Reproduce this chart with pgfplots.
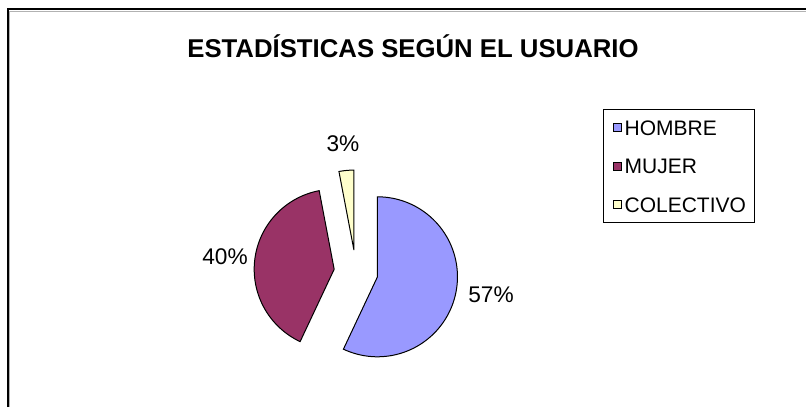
\documentclass[border=0pt]{standalone}
\usepackage{pgfplots}
\pgfplotsset{compat=1.18}
\usepackage{fontspec}
\setmainfont{Liberation Sans}
\definecolor{hombre}{HTML}{9999FF}
\definecolor{mujer}{HTML}{993366}
\definecolor{colectivo}{HTML}{FFFFCC}
\begin{document}
\begin{tikzpicture}
% values (percent)
\def\vH{57}\def\vM{40}\def\vC{3}
% pie geometry (pixel units)
\def\cx{356}\def\cy{135}\def\R{80}\def\ex{22}
\pgfmathsetmacro\aA{90}
\pgfmathsetmacro\aB{\aA-3.6*\vH}
\pgfmathsetmacro\aC{\aB-3.6*\vM}
\pgfmathsetmacro\aD{\aC-3.6*\vC}
\pgfmathsetmacro\hx{\cx+\ex*cos((\aA+\aB)/2)}
\pgfmathsetmacro\hy{\cy+\ex*sin((\aA+\aB)/2)}
\pgfmathsetmacro\mx{\cx+\ex*cos((\aB+\aC)/2)}
\pgfmathsetmacro\my{\cy+\ex*sin((\aB+\aC)/2)}
\pgfmathsetmacro\kx{\cx+\ex*cos((\aC+\aD)/2)}
\pgfmathsetmacro\ky{\cy+\ex*sin((\aC+\aD)/2)}
\begin{axis}[
  x=0.75pt, y=0.75pt,
  xmin=0, xmax=806, ymin=0, ymax=407,
  scale only axis, hide axis, clip=false,
  anchor=south west, at={(0,0)},
  legend style={
    at={(603/806,298/407)}, anchor=north west,
    draw=black, line width=0.75pt,
    font=\fontsize{15.75}{18}\selectfont,
    inner xsep=6.75pt, inner ysep=8pt,
    row sep=17.6pt,
    nodes={inner sep=0pt, text height=11.3pt, text depth=0pt},
    cells={anchor=west},
    /tikz/every odd column/.append style={column sep=2.5pt},
  },
  legend image code/.code={
    \draw[#1, draw=black, line width=0.6pt] (0pt,-3pt) rectangle (6pt,3pt);
  },
]
\addplot[fill=hombre, draw=black, line width=0.75pt, domain=\aB:\aA, samples=80]
  ({\hx+\R*cos(x)},{\hy+\R*sin(x)}) -- (axis cs:\hx,\hy) -- cycle;
\addlegendentry{HOMBRE}
\addplot[fill=mujer, draw=black, line width=0.75pt, domain=\aC:\aB, samples=60]
  ({\mx+\R*cos(x)},{\my+\R*sin(x)}) -- (axis cs:\mx,\my) -- cycle;
\addlegendentry{MUJER}
\addplot[fill=colectivo, draw=black, line width=0.75pt, domain=\aD:\aC, samples=10]
  ({\kx+\R*cos(x)},{\ky+\R*sin(x)}) -- (axis cs:\kx,\ky) -- cycle;
\addlegendentry{COLECTIVO}
% title
\node[anchor=base, font=\fontsize{19.3}{22}\selectfont\bfseries] at (axis cs:413,349) {ESTADÍSTICAS SEGÚN EL USUARIO};
% percentage labels
\node[anchor=base, font=\fontsize{17}{20}\selectfont] at (axis cs:491,104) {57\%};
\node[anchor=base, font=\fontsize{17}{20}\selectfont] at (axis cs:225,142) {40\%};
\node[anchor=base, font=\fontsize{17}{20}\selectfont] at (axis cs:343,255) {3\%};
% chart frame (top and left edges visible)
\draw[black, line width=1.5pt] (axis cs:7.5,0) -- (axis cs:7.5,397.5) -- (axis cs:806,397.5);
\draw[gray!60, line width=0.75pt] (axis cs:9.2,0) -- (axis cs:9.2,395.8) -- (axis cs:806,395.8);
\end{axis}
\pgfresetboundingbox
\useasboundingbox (0,0) rectangle (604.5pt,305.25pt);
\end{tikzpicture}
\end{document}
